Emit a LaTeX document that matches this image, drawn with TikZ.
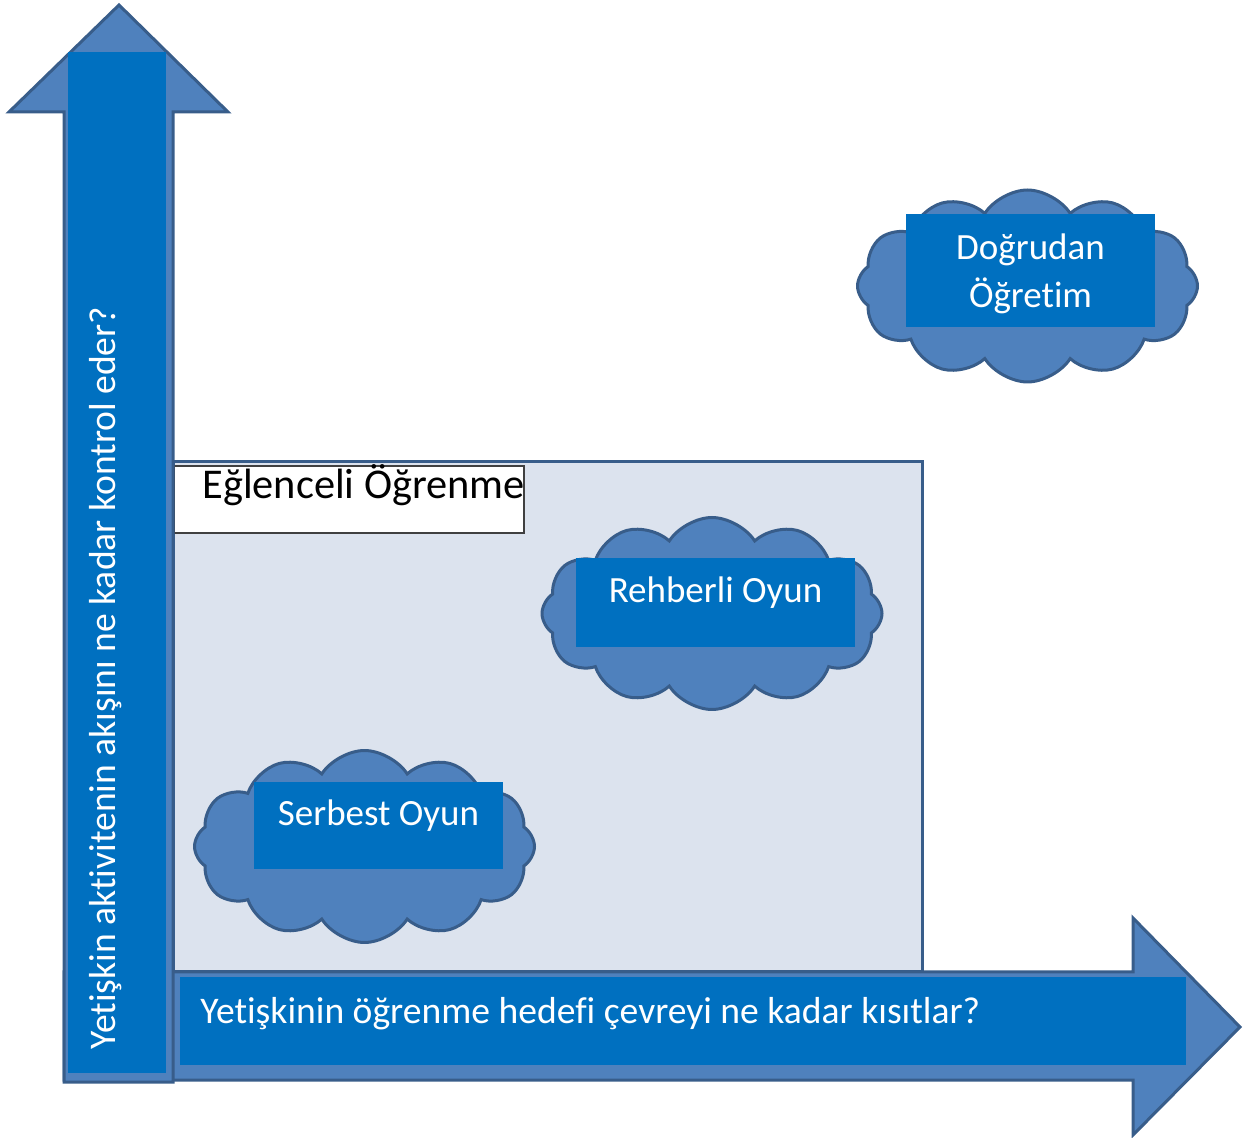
\documentclass[tikz,border=0pt]{standalone}
\usepackage{fontspec}
\setmainfont[Ligatures=NoCommon]{Carlito}
\usetikzlibrary{shapes.symbols}
\definecolor{arrowfill}{HTML}{4F81BD}
\definecolor{arrowline}{HTML}{385D8A}
\definecolor{labelblue}{HTML}{0070C0}
\definecolor{areafill}{HTML}{DCE3EE}

\tikzset{
  bigarrow/.style={fill=arrowfill, draw=arrowline, line width=1.5pt, line join=miter},
  puff/.style={cloud, cloud puffs=12, cloud puff arc=115, cloud ignores aspect,
    fill=arrowfill, draw=arrowline, line width=1.5pt, inner sep=0pt,
    minimum width=170pt, minimum height=96pt},
  bluebox/.style={fill=labelblue, text=white, inner sep=0pt, align=center,
    font=\fontsize{18.5}{24}\selectfont},
  axislabel/.style={text=white, inner sep=0pt, font=\fontsize{18.8}{24}\selectfont},
}

\begin{document}
\begin{tikzpicture}[x=0.5pt, y=-0.5pt]
  \useasboundingbox (0,0) rectangle (1249,1138);
  \draw[fill=areafill, draw=arrowline, line width=1.5pt] (173,462) rectangle (922,972);
  \node[draw=black!75, fill=white, line width=1pt, anchor=north west, inner sep=0pt,
    minimum width=175pt, minimum height=33.5pt] (funbox) at (173,465) {};
  \node[anchor=base west, inner sep=0pt, font=\fontsize{21.2}{26}\selectfont] (funlabel) at (202,499) {Eğlenceli Öğrenme};

  \node[puff] (freecloud) at (364.5,846.5) {};
  \node[puff] (guidedcloud) at (712,613.5) {};
  \node[puff] (directcloud) at (1027.5,286) {};
  \node[bluebox, minimum width=124.5pt, minimum height=43.5pt, text height=12pt, text depth=12pt] (freebox) at (378.5,825.5) {Serbest Oyun};
  \node[bluebox, minimum width=139.5pt, minimum height=44.5pt, text height=12pt, text depth=12pt] (guidedbox) at (715.5,602.5) {Rehberli Oyun};
  \node[bluebox, minimum width=124.5pt, minimum height=56.5pt, text depth=0pt] (directbox) at (1030.5,271) {Doğrudan\\Öğretim};

  \draw[bigarrow] (64,972) -- (1133,972) -- (1133,918) -- (1240,1027) -- (1133,1135) -- (1133,1080) -- (64,1080) -- cycle;
  \draw[bigarrow] (64,1082) -- (64,112) -- (9,112) -- (119,5) -- (228,112) -- (173,112) -- (173,1082) -- cycle;
  \fill[labelblue] (180,977) rectangle (1186,1065);
  \fill[labelblue] (68,52) rectangle (166,1073);

  \node[axislabel, anchor=base west] (xlabel) at (200,1023) {Yetişkinin öğrenme hedefi çevreyi ne kadar kısıtlar?};
  \node[axislabel, anchor=base west, rotate=90] (ylabel) at (115,1050) {Yetişkin aktivitenin akışını ne kadar kontrol eder?};
\end{tikzpicture}
\end{document}
